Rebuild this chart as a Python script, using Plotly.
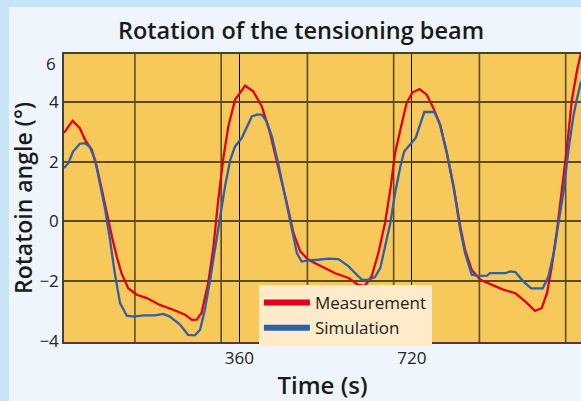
import plotly.graph_objects as go

# Measurement (red) - time in s, angle in degrees
meas_t = [-6, 12, 27, 38, 52, 62, 73, 83, 94, 104, 114, 128, 146, 167, 194, 222, 247, 261, 271,
          281, 295, 306, 316, 327, 337, 351, 372, 389, 407, 424, 441, 459, 473, 487, 504, 525, 544,
          560, 588, 608, 622, 636, 650, 664, 675, 685, 696, 709, 721, 736, 751, 765, 779, 793, 807, 821,
          831, 845, 863, 880, 908, 936, 957, 977, 991, 1002, 1012, 1023, 1033, 1044, 1054, 1065, 1073]
meas_v = [2.96, 3.37, 3.12, 2.73, 2.40, 1.84, 1.06, 0.28, -0.50, -1.17, -1.73, -2.23, -2.45, -2.56, -2.79, -2.95, -3.12, -3.29, -3.28,
          -3.06, -2.06, -0.84, 0.73, 2.17, 3.18, 4.07, 4.54, 4.35, 3.85, 2.96, 1.84, 0.62, -0.39, -1.00, -1.28, -1.45, -1.60,
          -1.73, -1.89, -2.12, -2.15, -1.84, -1.06, -0.05, 1.06, 2.29, 3.07, 3.96, 4.31, 4.43, 4.24, 3.79, 3.23, 2.29, 1.17, -0.17,
          -0.95, -1.62, -1.95, -2.06, -2.26, -2.40, -2.68, -2.99, -2.90, -2.40, -1.51, -0.28, 1.06, 2.51, 4.07, 5.07, 5.63]

# Simulation (blue)
sim_t = [-6, 3, 13, 27, 38, 48, 59, 69, 80, 90, 100, 111, 125, 139, 160, 184, 201, 215, 236, 253, 267,
         278, 288, 299, 309, 320, 330, 341, 351, 365, 375, 386, 396, 407, 417, 428, 441, 455, 469, 480, 490,
         504, 525, 546, 567, 588, 605, 616, 629, 643, 654, 664, 675, 685, 696, 704, 716, 728, 737, 746, 767,
         779, 793, 807, 821, 831, 845, 859, 877, 883, 915, 925, 936, 953, 969, 993, 1005, 1016, 1026, 1037,
         1047, 1057, 1064, 1073]
sim_v = [1.79, 1.95, 2.34, 2.60, 2.62, 2.49, 2.06, 1.28, 0.39, -0.61, -1.73, -2.73, -3.15, -3.18, -3.14, -3.14, -3.09, -3.18, -3.45, -3.79, -3.81,
         -3.62, -2.95, -1.95, -0.95, 0.06, 1.17, 2.06, 2.51, 2.79, 3.12, 3.51, 3.57, 3.57, 3.34, 2.84, 1.95, 0.84, -0.28, -1.06, -1.34,
         -1.30, -1.28, -1.24, -1.26, -1.50, -1.78, -1.95, -1.95, -1.86, -1.56, -0.84, -0.05, 0.95, 1.84, 2.34, 2.57, 2.79, 3.23, 3.66, 3.66,
         3.23, 2.29, 1.17, -0.28, -1.06, -1.78, -1.82, -1.81, -1.73, -1.73, -1.67, -1.69, -2.01, -2.24, -2.24, -1.84, -1.06, -0.05, 1.06,
         2.40, 3.51, 4.07, 4.68]

x_tick_vals = [360, 720]
x_tick_text = ["360", "720"]
y_tick_vals = [-4, -2, 0, 2, 4]
y_tick_text = ["\u22124", "\u22122", "0", "2", "4"]
brown_grid_times = [142, 322, 502, 682, 861, 1041]

RED = "#e2001a"
BLUE = "#2f5fa6"
GRID = "#5e4b1d"
FONT = "Open Sans"

fig = go.Figure()
fig.add_trace(go.Scatter(x=meas_t, y=meas_v, mode="lines", line=dict(color=RED, width=2.3),
                         showlegend=False, hoverinfo="skip"))
fig.add_trace(go.Scatter(x=sim_t, y=sim_v, mode="lines", line=dict(color=BLUE, width=2.3),
                         showlegend=False, hoverinfo="skip"))
# legend proxies
fig.add_trace(go.Scatter(x=[None], y=[None], mode="lines", name="Measurement",
                         line=dict(color=RED, width=6)))
fig.add_trace(go.Scatter(x=[None], y=[None], mode="lines", name="Simulation",
                         line=dict(color=BLUE, width=6)))

shapes = []
for t in brown_grid_times:
    shapes.append(dict(type="line", xref="x", yref="paper", x0=t, x1=t, y0=0, y1=1,
                       line=dict(color=GRID, width=1.6), layer="below"))
# outer light-blue frame strips
shapes.append(dict(type="rect", xref="paper", yref="paper", x0=-0.2, x1=1.2, y0=1.163, y1=1.3,
                   fillcolor="#c8e4f7", line=dict(width=0), layer="below"))
shapes.append(dict(type="rect", xref="paper", yref="paper", x0=-0.2, x1=-0.1064, y0=-0.3, y1=1.3,
                   fillcolor="#c8e4f7", line=dict(width=0), layer="below"))

fig.update_layout(
    width=581, height=401,
    margin=dict(l=64, r=0, t=54, b=59),
    paper_bgcolor="#eef5fc",
    plot_bgcolor="#f6c95a",
    font=dict(family=FONT, color="#222222", size=17),
    title=dict(text="Rotation of the tensioning beam", x=301 / 581, xref="container", xanchor="center",
               y=1 - 31 / 401, yref="container", yanchor="middle",
               font=dict(family=FONT, size=23.5, color="#1a1a1a", weight=600)),
    shapes=shapes,
    showlegend=True,
    legend=dict(x=0.377, y=0.198, xanchor="left", yanchor="top",
                bgcolor="#fdebca", borderwidth=0,
                font=dict(family=FONT, size=17, color="#222222"),
                tracegroupgap=0, itemwidth=46),
    annotations=[dict(text="6", xref="paper", yref="y", x=0, y=5.27, xanchor="right",
                      xshift=-6, showarrow=False, font=dict(family=FONT, size=17, color="#222222"))],
)
fig.update_xaxes(range=[-6, 1073], tickvals=x_tick_vals, ticktext=x_tick_text,
                 showgrid=True, gridcolor="#000000", gridwidth=1, zeroline=False,
                 showline=True, linecolor="#4a4030", linewidth=1.5, mirror=True,
                 ticks="", tickfont=dict(size=17),
                 title=dict(text="Time (s)", font=dict(size=24, color="#1a1a1a", weight=600), standoff=15))
fig.update_yaxes(range=[-4.03, 5.6], tickvals=y_tick_vals, ticktext=y_tick_text,
                 showgrid=True, gridcolor=GRID, gridwidth=1.6, zeroline=False,
                 showline=True, linecolor="#4a4030", linewidth=1.5, mirror=False,
                 ticks="", tickfont=dict(size=17),
                 title=dict(text="Rotatoin angle (°)", font=dict(size=23, color="#1a1a1a", weight=600), standoff=0))

fig.write_html("out.html")
